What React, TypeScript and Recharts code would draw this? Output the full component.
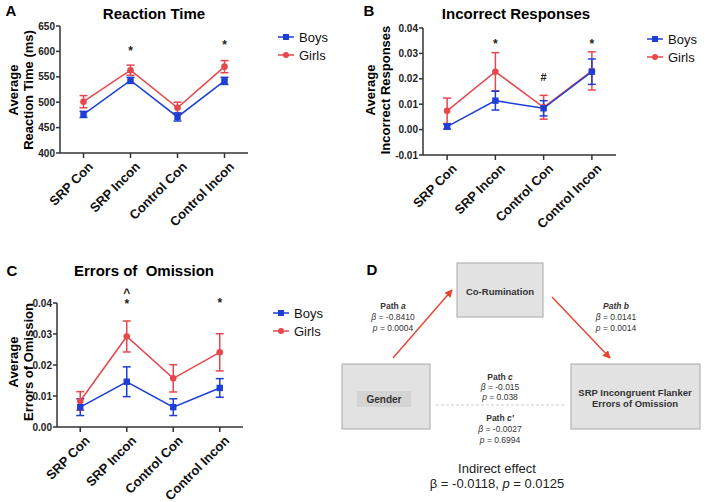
import React from "react";
import { LineChart, Line, XAxis, YAxis, ErrorBar, Legend, ReferenceDot } from "recharts";

// Flanker task results by gender (means ± SEM)
const conditions = ["SRP Con", "SRP Incon", "Control Con", "Control Incon"];

const rtBoys = [476, 543, 471, 542];
const rtBoysErr = [6, 6, 8, 7];
const rtGirls = [501, 563, 489, 570];
const rtGirlsErr = [12, 10, 11, 12];
const rtTicks = [400, 450, 500, 550, 600, 650];

const irBoys = [0.0012, 0.0114, 0.0084, 0.0228];
const irBoysErr = [0.001, 0.0037, 0.003, 0.005];
const irGirls = [0.0074, 0.0228, 0.0088, 0.0231];
const irGirlsErr = [0.005, 0.0075, 0.0047, 0.0075];
const irTicks = [-0.01, 0, 0.01, 0.02, 0.03, 0.04];

const eoBoys = [0.0064, 0.0146, 0.0064, 0.0126];
const eoBoysErr = [0.0027, 0.0048, 0.0027, 0.003];
const eoGirls = [0.0084, 0.0292, 0.0157, 0.0241];
const eoGirlsErr = [0.003, 0.005, 0.0044, 0.006];
const eoTicks = [0, 0.01, 0.02, 0.03, 0.04];

// significance markers: [condition, value, symbol]
const rtMarks: [string, number, string][] = [
  ["SRP Incon", 607, "*"],
  ["Control Incon", 619, "*"],
];
const irMarks: [string, number, string][] = [
  ["SRP Incon", 0.035, "*"],
  ["Control Con", 0.0209, "#"],
  ["Control Incon", 0.035, "*"],
];
const eoMarks: [string, number, string][] = [
  ["SRP Incon", 0.0442, "^"],
  ["SRP Incon", 0.0406, "*"],
  ["Control Incon", 0.041, "*"],
];

const BLUE = "#1d3fd6";
const RED = "#e6474d";
const AXIS = "#333";
const FONT = '"Liberation Sans", Arial, Helvetica, sans-serif';

type Box = { left: number; top: number; width: number; height: number };

interface PanelProps {
  letter: string;
  title: string;
  yLabel: string[];
  boys: number[];
  boysErr: number[];
  girls: number[];
  girlsErr: number[];
  domain: [number, number];
  ticks: number[];
  decimals: number;
  marks: [string, number, string][];
  box: Box;
  plot: Box; // plot area relative to box
  legendAt: [number, number];
  titleAt: [number, number];
  letterAt: [number, number];
  yLabelAt: [number, number];
}

const BoysDot = (p: any) =>
  p.cx == null ? null : (
    <rect key={`b${p.index}`} x={p.cx - 3.2} y={p.cy - 3.2} width={6.4} height={6.4} fill={BLUE} />
  );
const GirlsDot = (p: any) =>
  p.cx == null ? null : <circle key={`g${p.index}`} cx={p.cx} cy={p.cy} r={3.3} fill={RED} />;

const XTick = (p: any) => (
  <g transform={`translate(${p.x + 4},${p.y + 1})`}>
    <text
      x={0}
      y={0}
      dy="0.7em"
      textAnchor="end"
      transform="rotate(-45)"
      fontFamily={FONT}
      fontSize={13}
      fontWeight="bold"
      fill="#111"
    >
      {p.payload.value}
    </text>
  </g>
);

const legendItems = [
  { name: "Boys", color: BLUE, square: true },
  { name: "Girls", color: RED, square: false },
];

const renderLegend = () => (
  <div style={{ fontFamily: FONT, fontSize: 13, color: "#111" }}>
    {legendItems.map((s) => (
      <div key={s.name} style={{ display: "flex", alignItems: "center", height: 18 }}>
        <svg width={16} height={10}>
          <line x1={0} y1={5} x2={16} y2={5} stroke={s.color} strokeWidth={1.5} />
          {s.square ? (
            <rect x={5} y={2} width={6} height={6} fill={s.color} />
          ) : (
            <circle cx={8} cy={5} r={3} fill={s.color} />
          )}
        </svg>
        <span style={{ marginLeft: 5 }}>{s.name}</span>
      </div>
    ))}
  </div>
);

function Panel(props: PanelProps) {
  const { box, plot } = props;
  const data = conditions.map((c, i) => ({
    name: c,
    boys: props.boys[i],
    boysErr: props.boysErr[i],
    girls: props.girls[i],
    girlsErr: props.girlsErr[i],
  }));
  const pad = plot.width / 8;
  return (
    <div style={{ position: "absolute", left: box.left, top: box.top, width: box.width, height: box.height }}>
      <LineChart
        width={box.width}
        height={box.height}
        data={data}
        margin={{ top: plot.top, left: 0, right: box.width - plot.left - plot.width, bottom: 0 }}
      >
        <XAxis
          dataKey="name"
          height={box.height - plot.top - plot.height}
          padding={{ left: pad, right: pad }}
          stroke={AXIS}
          strokeWidth={1.5}
          tickSize={5}
          interval={0}
          tick={<XTick />}
        />
        <YAxis
          width={plot.left}
          domain={props.domain}
          ticks={props.ticks}
          allowDataOverflow
          stroke={AXIS}
          strokeWidth={1.5}
          tickSize={4}
          tickMargin={1}
          tickFormatter={(v: number) => v.toFixed(props.decimals)}
          tick={{ fontSize: 10, fontWeight: "bold", fill: "#222", fontFamily: FONT }}
        />
        <Legend
          layout="vertical"
          align="center"
          verticalAlign="middle"
          wrapperStyle={{ left: props.legendAt[0], top: props.legendAt[1], width: 80 }}
          content={renderLegend}
        />
        <Line
          dataKey="girls"
          name="Girls"
          stroke={RED}
          strokeWidth={1.5}
          dot={GirlsDot}
          activeDot={false}
          isAnimationActive={false}
        >
          <ErrorBar dataKey="girlsErr" width={4} stroke={RED} strokeWidth={1.5} direction="y" />
        </Line>
        <Line
          dataKey="boys"
          name="Boys"
          stroke={BLUE}
          strokeWidth={1.5}
          dot={BoysDot}
          activeDot={false}
          isAnimationActive={false}
        >
          <ErrorBar dataKey="boysErr" width={4} stroke={BLUE} strokeWidth={1.5} direction="y" />
        </Line>
        {props.marks.map(([cond, val, sym], i) => (
          <ReferenceDot
            key={i}
            x={cond}
            y={val}
            ifOverflow="visible"
            shape={(p: any) => (
              <text
                x={p.cx}
                y={p.cy + (sym === "#" ? 4 : 7)}
                textAnchor="middle"
                fontFamily={FONT}
                fontSize={sym === "#" ? 11 : 12}
                fontWeight="bold"
                fill="#222"
              >
                {sym}
              </text>
            )}
          />
        ))}
      </LineChart>
      <div
        style={{
          position: "absolute",
          left: props.letterAt[0],
          top: props.letterAt[1],
          transform: "translate(-50%,-50%)",
          fontFamily: FONT,
          fontWeight: "bold",
          fontSize: 15,
        }}
      >
        {props.letter}
      </div>
      <div
        style={{
          position: "absolute",
          left: props.titleAt[0],
          top: props.titleAt[1],
          transform: "translate(-50%,-50%)",
          fontFamily: FONT,
          fontWeight: "bold",
          fontSize: 15,
          whiteSpace: "pre",
        }}
      >
        {props.title}
      </div>
      <div
        style={{
          position: "absolute",
          left: props.yLabelAt[0],
          top: props.yLabelAt[1],
          transform: "translate(-50%,-50%) rotate(-90deg)",
          fontFamily: FONT,
          fontWeight: "bold",
          fontSize: 13,
          lineHeight: "15px",
          textAlign: "center",
          whiteSpace: "nowrap",
        }}
      >
        {props.yLabel.map((l) => (
          <div key={l}>{l}</div>
        ))}
      </div>
    </div>
  );
}

function Mediation() {
  const t = { fontFamily: FONT, fill: "#333", textAnchor: "middle" as const };
  return (
    <svg width={708} height={502} style={{ position: "absolute", left: 0, top: 0 }}>
      <defs>
        <marker id="ah" markerWidth={8} markerHeight={8} refX={7} refY={4} orient="auto" markerUnits="userSpaceOnUse">
          <path d="M0,0 L8,4 L0,8 z" fill="#e8432f" />
        </marker>
      </defs>
      <text x={372} y={275} fontFamily={FONT} fontWeight="bold" fontSize={15} textAnchor="middle">
        D
      </text>
      <rect x={457} y={263} width={86} height={54} fill="#e2e2e2" stroke="#a8a8a8" />
      <text {...t} x={500} y={295} fontSize={9.5} fontWeight="bold">
        Co-Rumination
      </text>
      <rect x={342} y={364} width={88} height={65} fill="#e2e2e2" stroke="#a8a8a8" />
      <rect x={357} y={391} width={54} height={16} fill="#d4d4d4" />
      <text {...t} x={384} y={402.5} fontSize={10} fontWeight="bold">
        Gender
      </text>
      <rect x={571} y={364} width={129} height={65} fill="#e2e2e2" stroke="#a8a8a8" />
      <text {...t} x={635} y={395.5} fontSize={9.5} fontWeight="bold">
        SRP Incongruent Flanker
      </text>
      <text {...t} x={635} y={406.5} fontSize={9.5} fontWeight="bold">
        Errors of Omission
      </text>
      <line x1={393} y1={358} x2={452} y2={290} stroke="#e8432f" strokeWidth={1.4} markerEnd="url(#ah)" />
      <line x1={552} y1={297} x2={610} y2={358} stroke="#e8432f" strokeWidth={1.4} markerEnd="url(#ah)" />
      <line x1={436} y1={405} x2={566} y2={405} stroke="#cfcfcf" strokeWidth={1} strokeDasharray="3 2" />
      <g fontSize={8.5}>
        <text {...t} x={393} y={309} fontWeight="bold">
          Path <tspan fontStyle="italic">a</tspan>
        </text>
        <text {...t} x={393} y={320}>
          <tspan fontStyle="italic">β</tspan> = -0.8410
        </text>
        <text {...t} x={393} y={331}>
          <tspan fontStyle="italic">p</tspan> = 0.0004
        </text>
        <text {...t} x={616} y={309} fontWeight="bold" fontStyle="italic">
          Path b
        </text>
        <text {...t} x={616} y={320}>
          <tspan fontStyle="italic">β</tspan> = 0.0141
        </text>
        <text {...t} x={616} y={331}>
          <tspan fontStyle="italic">p</tspan> = 0.0014
        </text>
        <text {...t} x={500} y={380} fontWeight="bold">
          Path <tspan fontStyle="italic">c</tspan>
        </text>
        <text {...t} x={500} y={390}>
          <tspan fontStyle="italic">β</tspan> = -0.015
        </text>
        <text {...t} x={500} y={400}>
          <tspan fontStyle="italic">p</tspan> = 0.038
        </text>
        <text {...t} x={500} y={421} fontWeight="bold">
          Path <tspan fontStyle="italic">c′</tspan>
        </text>
        <text {...t} x={500} y={432}>
          <tspan fontStyle="italic">β</tspan> = -0.0027
        </text>
        <text {...t} x={500} y={443}>
          <tspan fontStyle="italic">p</tspan> = 0.6994
        </text>
      </g>
      <text {...t} x={497} y={473} fontSize={13} fill="#222">
        Indirect effect
      </text>
      <text {...t} x={497} y={488} fontSize={13} fill="#222">
        β = -0.0118, <tspan fontStyle="italic">p</tspan> = 0.0125
      </text>
    </svg>
  );
}

export default function App() {
  return (
    <div style={{ position: "absolute", left: 0, top: 0, width: 708, height: 502, background: "#fff", overflow: "hidden" }}>
      <Mediation />
      <Panel
        letter="A"
        title="Reaction Time"
        yLabel={["Average", "Reaction Time (ms)"]}
        boys={rtBoys}
        boysErr={rtBoysErr}
        girls={rtGirls}
        girlsErr={rtGirlsErr}
        domain={[400, 650]}
        ticks={rtTicks}
        decimals={0}
        marks={rtMarks}
        box={{ left: 0, top: 0, width: 354, height: 250 }}
        plot={{ left: 60, top: 26, width: 188, height: 127 }}
        legendAt={[278, 28]}
        titleAt={[154, 13]}
        letterAt={[11, 10]}
        yLabelAt={[21, 90]}
      />
      <Panel
        letter="B"
        title="Incorrect Responses"
        yLabel={["Average", "Incorrect Responses"]}
        boys={irBoys}
        boysErr={irBoysErr}
        girls={irGirls}
        girlsErr={irGirlsErr}
        domain={[-0.01, 0.04]}
        ticks={irTicks}
        decimals={2}
        marks={irMarks}
        box={{ left: 354, top: 0, width: 354, height: 250 }}
        plot={{ left: 69, top: 28, width: 193, height: 127 }}
        legendAt={[293, 30]}
        titleAt={[162, 13]}
        letterAt={[15, 10]}
        yLabelAt={[24, 90]}
      />
      <Panel
        letter="C"
        title="Errors of  Omission"
        yLabel={["Average", "Errors of Omission"]}
        boys={eoBoys}
        boysErr={eoBoysErr}
        girls={eoGirls}
        girlsErr={eoGirlsErr}
        domain={[0, 0.04]}
        ticks={eoTicks}
        decimals={2}
        marks={eoMarks}
        box={{ left: 0, top: 220, width: 354, height: 282 }}
        plot={{ left: 57, top: 83, width: 186, height: 124 }}
        legendAt={[273, 84]}
        titleAt={[144, 50]}
        letterAt={[12, 50]}
        yLabelAt={[20.5, 142]}
      />
    </div>
  );
}
